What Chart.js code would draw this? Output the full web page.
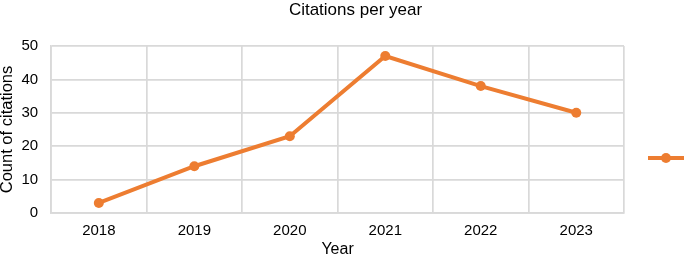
<!DOCTYPE html>
<html>
<head>
<meta charset="utf-8">
<script src="https://cdn.jsdelivr.net/npm/chart.js@4/dist/chart.umd.min.js"></script>
<style>
html,body{margin:0;padding:0;background:#fff;}
#wrap{width:685px;height:257px;}
</style>
</head>
<body>
<div id="wrap"><canvas id="c" width="685" height="257"></canvas></div>
<script>
const years = ["2018", "2019", "2020", "2021", "2022", "2023"];
const citations = [3, 14, 23, 47, 38, 30];
const yTicks = [0, 10, 20, 30, 40, 50];

const ORANGE = "#ED7D31";
const GRID = "#d9d9d9";
const FONT = "'Liberation Sans', Arial, sans-serif";

const legendMarker = {
  id: "legendMarker",
  afterLayout(chart) {
    if (chart.titleBlock) { chart.titleBlock.left += 13; chart.titleBlock.right += 13; }
  },
  afterDraw(chart) {
    const ctx = chart.ctx;
    const ca = chart.chartArea;
    const y = 158;
    const x0 = ca.right + 24, x1 = ca.right + 60;
    ctx.save();
    ctx.strokeStyle = ORANGE;
    ctx.lineWidth = 4;
    ctx.beginPath();
    ctx.moveTo(x0, y);
    ctx.lineTo(x1, y);
    ctx.stroke();
    ctx.fillStyle = ORANGE;
    ctx.beginPath();
    ctx.arc((x0 + x1) / 2, y, 5, 0, Math.PI * 2);
    ctx.fill();
    ctx.restore();
  }
};

new Chart(document.getElementById("c"), {
  type: "line",
  data: {
    labels: years,
    datasets: [{
      label: "Citations",
      data: citations,
      borderColor: ORANGE,
      backgroundColor: ORANGE,
      borderWidth: 4,
      pointRadius: 5,
      pointBorderWidth: 0,
      pointHoverRadius: 5,
      pointBackgroundColor: ORANGE,
      pointBorderColor: ORANGE,
      tension: 0
    }]
  },
  options: {
    responsive: false,
    animation: false,
    layout: { padding: { left: 0, right: 0, top: 0, bottom: 0 } },
    plugins: {
      legend: { display: false },
      tooltip: { enabled: false },
      title: {
        display: true,
        text: "Citations per year",
        color: "#000",
        font: { family: FONT, size: 17, weight: "normal", lineHeight: 1.2 },
        padding: { top: 0, bottom: 25.6 }
      }
    },
    scales: {
      x: {
        type: "category",
        offset: true,
        grid: { offset: true, color: GRID, lineWidth: 1.7, drawTicks: false },
        border: { color: GRID, width: 1.7 },
        ticks: { color: "#000", font: { family: FONT, size: 15 }, padding: 9, maxRotation: 0 },
        title: { display: true, text: "Year", color: "#000", font: { family: FONT, size: 16, lineHeight: 0.125 }, padding: { top: 0, bottom: 6 } }
      },
      y: {
        min: 0,
        max: 50,
        afterBuildTicks(scale) { scale.ticks = yTicks.map(v => ({ value: v })); },
        grid: { color: GRID, lineWidth: 1.7, drawTicks: false },
        border: { color: GRID, width: 1.7 },
        ticks: { color: "#000", font: { family: FONT, size: 15 }, padding: 13 },
        title: { display: true, text: "Count of citations", color: "#000", font: { family: FONT, size: 16.5, lineHeight: 0.1212 }, padding: { top: 6.4, bottom: 0 } }
      },
      yr: {
        type: "linear",
        position: "right",
        display: true,
        grid: { display: false, drawTicks: false },
        border: { display: false },
        ticks: { display: false },
        afterFit(scale) { scale.width = 61; }
      }
    }
  },
  plugins: [legendMarker]
});
</script>
</body>
</html>
